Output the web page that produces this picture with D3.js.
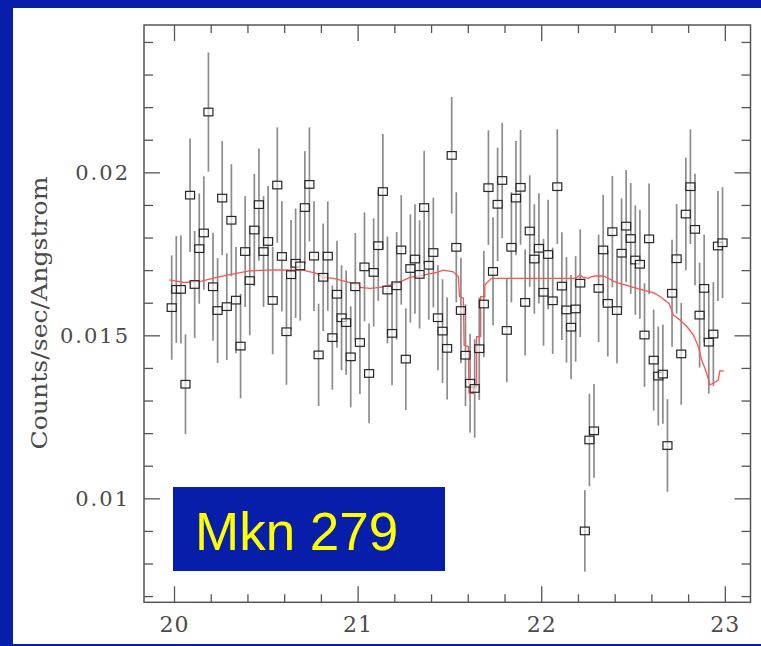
<!DOCTYPE html>
<html>
<head>
<meta charset="utf-8">
<script src="https://cdn.jsdelivr.net/npm/d3@7"></script>
<style>
  html, body { margin: 0; padding: 0; background: #061ea9; }
  svg { display: block; }
  .tick text { font-family: "DejaVu Serif", serif; fill: #4a4a4a; }
</style>
</head>
<body>
<svg id="chart" width="761" height="646"></svg>
<script>
// binned spectrum, 0.025 A bins starting at 19.9875 A
const binStart = 19.9875, binWidth = 0.025;

const counts = [
  0.01585, 0.01641, 0.01641, 0.01350, 0.01930, 0.01656, 0.01766, 0.01814, 0.02185, 0.01649,
  0.01576, 0.01921, 0.01588, 0.01853, 0.01608, 0.01467, 0.01757, 0.01668, 0.01823, 0.01901,
  0.01757, 0.01788, 0.01607, 0.01961, 0.01742, 0.01511, 0.01686, 0.01721, 0.01713, 0.01892,
  0.01963, 0.01743, 0.01440, 0.01678, 0.01743, 0.01493, 0.01626, 0.01554, 0.01539, 0.01434,
  0.01649, 0.01478, 0.01710, 0.01383, 0.01693, 0.01775, 0.01941, 0.01639, 0.01506, 0.01652,
  0.01762, 0.01427, 0.01705, 0.01734, 0.01687, 0.01892, 0.01715, 0.01754, 0.01554, 0.01513,
  0.01460, 0.02052, 0.01770, 0.01576, 0.01439, 0.01353, 0.01337, 0.01459, 0.01596, 0.01953,
  0.01696, 0.01902, 0.01975, 0.01515, 0.01770, 0.01921, 0.01954, 0.01601, 0.01820, 0.01734,
  0.01767, 0.01632, 0.01748, 0.01606, 0.01956, 0.01651, 0.01578, 0.01525, 0.01581, 0.01660,
  0.00900, 0.01179, 0.01207, 0.01644, 0.01762, 0.01598, 0.01818, 0.01576, 0.01752, 0.01835,
  0.01797, 0.01731, 0.01718, 0.01501, 0.01796, 0.01424, 0.01375, 0.01381, 0.01162, 0.01629,
  0.01735, 0.01443, 0.01872, 0.01956, 0.01825, 0.01562, 0.01644, 0.01479, 0.01504, 0.01774,
  0.01784
];

const errors = [
  0.00160, 0.00164, 0.00166, 0.00153, 0.00174, 0.00164, 0.00169, 0.00174, 0.00183, 0.00166,
  0.00161, 0.00175, 0.00164, 0.00172, 0.00163, 0.00160, 0.00170, 0.00168, 0.00172, 0.00172,
  0.00170, 0.00170, 0.00165, 0.00177, 0.00169, 0.00163, 0.00168, 0.00168, 0.00168, 0.00173,
  0.00175, 0.00168, 0.00157, 0.00165, 0.00168, 0.00160, 0.00164, 0.00161, 0.00160, 0.00155,
  0.00165, 0.00158, 0.00167, 0.00153, 0.00166, 0.00169, 0.00177, 0.00164, 0.00159, 0.00165,
  0.00168, 0.00156, 0.00166, 0.00168, 0.00166, 0.00174, 0.00167, 0.00168, 0.00161, 0.00159,
  0.00157, 0.00179, 0.00169, 0.00162, 0.00156, 0.00152, 0.00151, 0.00157, 0.00163, 0.00176,
  0.00166, 0.00174, 0.00177, 0.00159, 0.00169, 0.00175, 0.00176, 0.00163, 0.00171, 0.00168,
  0.00169, 0.00164, 0.00168, 0.00163, 0.00176, 0.00165, 0.00162, 0.00160, 0.00162, 0.00165,
  0.00125, 0.00142, 0.00144, 0.00165, 0.00169, 0.00163, 0.00171, 0.00162, 0.00168, 0.00172,
  0.00170, 0.00168, 0.00167, 0.00159, 0.00170, 0.00155, 0.00152, 0.00152, 0.00142, 0.00164,
  0.00168, 0.00156, 0.00173, 0.00176, 0.00171, 0.00161, 0.00165, 0.00158, 0.00159, 0.00169,
  0.00170
];

// model curve vertices (wavelength, flux)
const modelWave = [
  19.975, 20.06, 20.15, 20.25, 20.41, 20.55, 20.70, 20.777, 20.81, 20.868,
  20.959, 21.004, 21.013, 21.068, 21.122, 21.176, 21.22, 21.285, 21.358, 21.431,
  21.467, 21.521, 21.549, 21.555, 21.576, 21.58, 21.603, 21.607, 21.630, 21.630,
  21.648, 21.648, 21.670, 21.670, 21.693, 21.693, 21.72, 21.73, 22.176, 22.195,
  22.211, 22.229, 22.256, 22.275, 22.293, 22.338, 22.375, 22.411, 22.447, 22.502,
  22.556, 22.61, 22.647, 22.696, 22.72, 22.756, 22.793, 22.829, 22.856, 22.874,
  22.898, 22.919, 22.937, 22.964, 22.973, 22.995
];
const modelFlux = [
  0.01670, 0.01662, 0.01666, 0.01680, 0.01698, 0.01701, 0.01700, 0.01690, 0.01678, 0.01675,
  0.01662, 0.01657, 0.01647, 0.01644, 0.01647, 0.01654, 0.01661, 0.01678, 0.01685, 0.01693,
  0.01700, 0.01695, 0.01680, 0.01619, 0.01614, 0.01470, 0.01465, 0.01322, 0.01322, 0.01338,
  0.01338, 0.01496, 0.01496, 0.01619, 0.01619, 0.01654, 0.01670, 0.01675, 0.01675, 0.01678,
  0.01685, 0.01678, 0.01675, 0.01680, 0.01682, 0.01682, 0.01672, 0.01662, 0.01656, 0.01647,
  0.01639, 0.01631, 0.01619, 0.01598, 0.01562, 0.01547, 0.01527, 0.01501, 0.01465, 0.01424,
  0.01389, 0.01348, 0.01353, 0.01363, 0.01391, 0.01391
];

const xMajor = [20, 21, 22, 23];
const xMinor = [20.2, 20.4, 20.6, 20.8, 21.2, 21.4, 21.6, 21.8, 22.2, 22.4, 22.6, 22.8];
const yMajor = [0.01, 0.015, 0.02];
const yMinor = [0.007, 0.008, 0.009, 0.011, 0.012, 0.013, 0.014, 0.016, 0.017, 0.018,
                0.019, 0.021, 0.022, 0.023, 0.024];

const svg = d3.select("#chart");
const W = +svg.attr("width"), H = +svg.attr("height");
const blue = "#061ea9";

svg.append("rect").attr("width", W).attr("height", H).attr("fill", blue);
svg.append("rect").attr("x", 13).attr("y", 8).attr("width", W - 13).attr("height", 636)
    .attr("fill", "#fff");

const plotL = 144, plotR = 750.5, plotT = 25, plotB = 602.3;
const x = d3.scaleLinear().domain([19.8366, 23.1398]).range([plotL, plotR]);
const y = d3.scaleLinear().domain([0.00681, 0.02452]).range([plotB, plotT]);

const data = counts.map((c, i) => ({ w: binStart + i * binWidth, c: c, e: errors[i] }));

// error bars
svg.append("g")
    .attr("stroke", "#8c8c8c")
    .attr("stroke-width", 1.7)
  .selectAll("line")
  .data(data)
  .join("line")
    .attr("x1", d => x(d.w)).attr("x2", d => x(d.w))
    .attr("y1", d => y(d.c + d.e)).attr("y2", d => y(d.c - d.e));

// model
const line = d3.line().x((d, i) => x(modelWave[i])).y(d => y(d));
svg.append("path")
    .attr("d", line(modelFlux))
    .attr("fill", "none")
    .attr("stroke", "#ff5252")
    .attr("stroke-width", 1.3);

// open squares
svg.append("g")
    .attr("fill", "#fff")
    .attr("fill-opacity", 0.6)
    .attr("stroke", "#262626")
    .attr("stroke-width", 1.2)
  .selectAll("rect")
  .data(data)
  .join("rect")
    .attr("x", d => x(d.w) - 4.5)
    .attr("y", d => y(d.c) - 3.8)
    .attr("width", 9)
    .attr("height", 7.6);

// axes, ticks pointing inward on all four sides
function styleAxis(g) {
  g.select(".domain").remove();
  g.selectAll(".tick line").attr("stroke", "#555").attr("stroke-width", 1.3);
}
svg.append("g").attr("transform", `translate(0,${plotB})`)
    .call(d3.axisBottom(x).tickValues(xMajor).tickSize(-16).tickPadding(14).tickFormat(d3.format("d")))
    .call(styleAxis)
    .call(g => g.selectAll("text").attr("font-size", 22).attr("letter-spacing", 1));
svg.append("g").attr("transform", `translate(0,${plotB})`)
    .call(d3.axisBottom(x).tickValues(xMinor).tickSize(-8).tickFormat(""))
    .call(styleAxis);
svg.append("g").attr("transform", `translate(0,${plotT})`)
    .call(d3.axisTop(x).tickValues(xMajor).tickSize(-16).tickFormat(""))
    .call(styleAxis);
svg.append("g").attr("transform", `translate(0,${plotT})`)
    .call(d3.axisTop(x).tickValues(xMinor).tickSize(-8).tickFormat(""))
    .call(styleAxis);
svg.append("g").attr("transform", `translate(${plotL},0)`)
    .call(d3.axisLeft(y).tickValues(yMajor).tickSize(-16).tickPadding(14).tickFormat(d => String(+d.toFixed(3))))
    .call(styleAxis)
    .call(g => g.selectAll("text").attr("font-size", 21).attr("letter-spacing", 2));
svg.append("g").attr("transform", `translate(${plotL},0)`)
    .call(d3.axisLeft(y).tickValues(yMinor).tickSize(-9).tickFormat(""))
    .call(styleAxis);
svg.append("g").attr("transform", `translate(${plotR},0)`)
    .call(d3.axisRight(y).tickValues(yMajor).tickSize(-16).tickFormat(""))
    .call(styleAxis);
svg.append("g").attr("transform", `translate(${plotR},0)`)
    .call(d3.axisRight(y).tickValues(yMinor).tickSize(-9).tickFormat(""))
    .call(styleAxis);

svg.append("rect")
    .attr("x", plotL).attr("y", plotT)
    .attr("width", plotR - plotL).attr("height", plotB - plotT)
    .attr("fill", "none").attr("stroke", "#555").attr("stroke-width", 1.5);

svg.append("text")
    .attr("transform", "translate(47,313) rotate(-90)")
    .attr("text-anchor", "middle")
    .attr("font-family", "DejaVu Serif, serif")
    .attr("font-size", 22)
    .attr("fill", "#4a4a4a")
    .attr("textLength", 273)
    .attr("lengthAdjust", "spacingAndGlyphs")
    .text("Counts/sec/Angstrom");

// source label
svg.append("rect")
    .attr("x", 173).attr("y", 487).attr("width", 272).attr("height", 84)
    .attr("fill", blue);
svg.append("text")
    .attr("x", 195).attr("y", 550)
    .attr("font-family", "Liberation Sans, Arial, sans-serif")
    .attr("font-size", 53)
    .attr("fill", "#ffff00")
    .text("Mkn 279");
</script>
</body>
</html>
